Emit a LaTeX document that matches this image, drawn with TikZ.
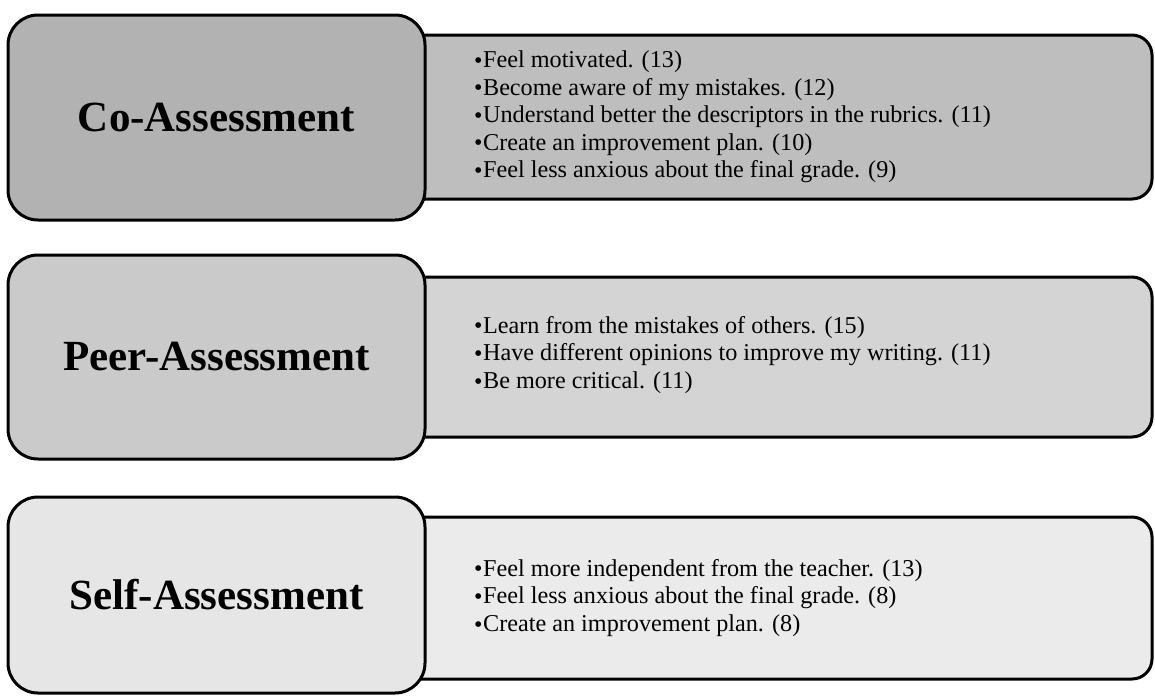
\documentclass[tikz,border=0pt]{standalone}
\usepackage{fontspec}
\setmainfont{Liberation Serif}
\definecolor{coL}{HTML}{B2B2B2}
\definecolor{coR}{HTML}{BEBEBE}
\definecolor{peL}{HTML}{CACACA}
\definecolor{peR}{HTML}{D4D4D4}
\definecolor{seL}{HTML}{E6E6E6}
\definecolor{seR}{HTML}{EBEBEB}
\newcommand\bul{\raisebox{-0.05ex}{\fontsize{24}{24}\selectfont•}\hspace{0.5pt}}
\begin{document}
\begin{tikzpicture}[x=1pt,y=-1pt,
  lbox/.style={draw=black, line width=3pt, rounded corners=30pt, minimum width=417pt, inner sep=0pt, font=\fontsize{43}{50}\selectfont\bfseries},
  rbox/.style={draw=black, line width=3pt, rounded corners=20pt, minimum width=757pt, inner sep=0pt},
  items/.style={anchor=west, align=left, font=\fontsize{24.2}{27.6}\selectfont, inner sep=0pt}
]
\useasboundingbox (0,0) rectangle (1155,696);
% Row 1
\node[rbox, fill=coR, minimum height=164pt] (coR) at (773.5,117) {};
\node[lbox, fill=coL, minimum height=205pt] (coL) at (216.5,117.5) {Co-Assessment};
\node[items] (coT) at (474,117) {\bul Feel motivated. (13)\\
\bul Become aware of my mistakes. (12)\\
\bul Understand better the descriptors in the rubrics. (11)\\
\bul Create an improvement plan. (10)\\
\bul Feel less anxious about the final grade. (9)};
% Row 2
\node[rbox, fill=peR, minimum height=160pt] (peR) at (773.5,357) {};
\node[lbox, fill=peL, minimum height=204pt] (peL) at (216.5,357) {Peer-Assessment};
\node[items] (peT) at (474,355) {\bul Learn from the mistakes of others. (15)\\
\bul Have different opinions to improve my writing. (11)\\
\bul Be more critical. (11)};
% Row 3
\node[rbox, fill=seR, minimum height=162pt] (seR) at (773.5,598) {};
\node[lbox, fill=seL, minimum height=196pt] (seL) at (216.5,595) {Self-Assessment};
\node[items] (seT) at (474,598) {\bul Feel more independent from the teacher. (13)\\
\bul Feel less anxious about the final grade. (8)\\
\bul Create an improvement plan. (8)};
\end{tikzpicture}
\end{document}
